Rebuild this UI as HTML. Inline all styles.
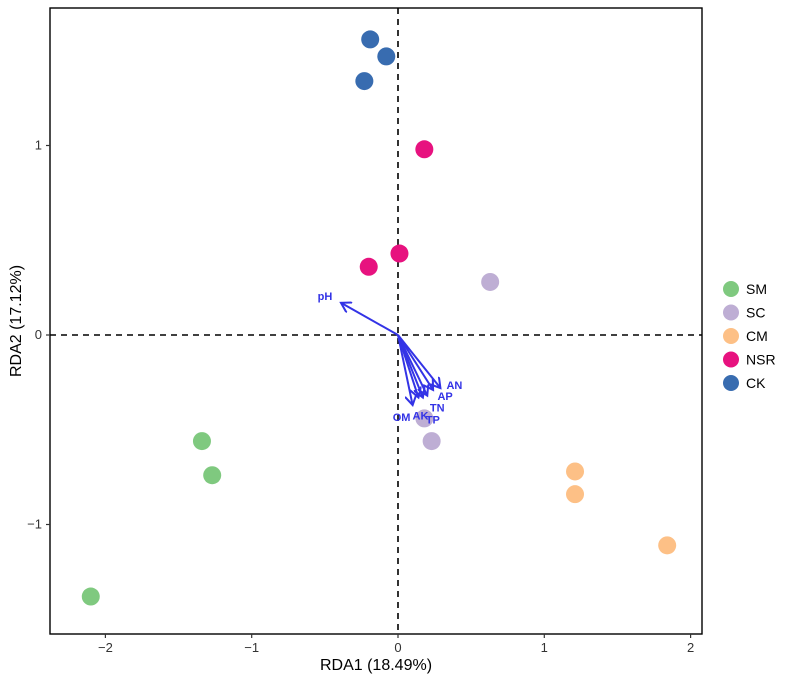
<!DOCTYPE html>
<html><head><meta charset="utf-8"><style>
body{margin:0;background:#fff;font-family:"Liberation Sans",Arial,sans-serif}
</style></head><body>
<svg id="chart" width="788" height="682" xmlns="http://www.w3.org/2000/svg"></svg>
<script>
const groups=["SM","SC","CM","NSR","CK"];
const groupColors=["#7fc97f","#beaed4","#fdc086","#e7127f","#386cb0"];
const sampleGroup=["CK","CK","CK","NSR","NSR","NSR","SC","SC","SC","CM","CM","CM","SM","SM","SM"];
const sampleX=[-0.19,-0.08,-0.23,0.18,0.01,-0.20,0.63,0.18,0.23,1.21,1.21,1.84,-1.34,-1.27,-2.10];
const sampleY=[1.56,1.47,1.34,0.98,0.43,0.36,0.28,-0.44,-0.56,-0.72,-0.84,-1.11,-0.56,-0.74,-1.38];
const envNames=["pH","AN","AP","TN","TP","AK","OM"];
const envX=[-0.39,0.29,0.24,0.20,0.17,0.14,0.10];
const envY=[0.17,-0.28,-0.29,-0.32,-0.33,-0.33,-0.37];
const xTicks=[-2,-1,0,1,2];
const yTicks=[-1,0,1];
const ns="http://www.w3.org/2000/svg";
const svg=document.getElementById("chart");
const L=50,R=702,T=8,B=634;
const sx=v=>398+v*146.3, sy=v=>335-v*189.5;
function mk(t,a,p){const e=document.createElementNS(ns,t);for(const k in a)e.setAttribute(k,a[k]);(p||svg).appendChild(e);return e;}
const panel=mk("rect",{x:L,y:T,width:R-L,height:B-T,fill:"none",stroke:"#000","stroke-width":1.4});


const vl=mk("line",{x1:sx(0),x2:sx(0),y1:T,y2:B,stroke:"#000","stroke-dasharray":"6,5","stroke-width":1.6});


const hl=mk("line",{x1:L,x2:R,y1:sy(0),y2:sy(0),stroke:"#000","stroke-dasharray":"6,5","stroke-width":1.6});


xTicks.forEach(v=>{
 mk("line",{x1:sx(v),x2:sx(v),y1:B,y2:B+4,stroke:"#333","stroke-width":1.2});
 const t=mk("text",{x:sx(v),y:B+18,"text-anchor":"middle","font-size":13,fill:"#333"});t.textContent=v<0?"\u2212"+(-v):v;
 
 
});
yTicks.forEach(v=>{
 mk("line",{x1:L-4,x2:L,y1:sy(v),y2:sy(v),stroke:"#333","stroke-width":1.2});
 const t=mk("text",{x:L-8,y:sy(v)+4,"text-anchor":"end","font-size":13,fill:"#333"});t.textContent=v<0?"\u2212"+(-v):v;
 
 
});
const xt=mk("text",{x:376,y:670,"text-anchor":"middle","font-size":16,fill:"#000"});xt.textContent="RDA1 (18.49%)";


const yt=mk("text",{x:0,y:0,"text-anchor":"middle","font-size":16,fill:"#000",transform:"translate(21,321) rotate(-90)"});yt.textContent="RDA2 (17.12%)";


sampleX.forEach((x,i)=>{
 const c=mk("circle",{cx:sx(x),cy:sy(sampleY[i]),r:9,fill:groupColors[groups.indexOf(sampleGroup[i])]});
 
 
});
const defs=mk("defs",{});
const m=mk("marker",{id:"ah",markerWidth:12,markerHeight:12,refX:10,refY:6,orient:"auto",markerUnits:"userSpaceOnUse"},defs);
mk("path",{d:"M0,0 L10,6 L0,12",fill:"none",stroke:"#3333e6","stroke-width":2},m);
const lblOff={pH:[-16,-3],AN:[14,1],AP:[12,10],TN:[10,16],TP:[10,26],AK:[2,22],OM:[-11,16]};
envX.forEach((x,i)=>{
 const a=mk("line",{x1:sx(0),y1:sy(0),x2:sx(x),y2:sy(envY[i]),stroke:"#3333e6","stroke-width":2,"marker-end":"url(#ah)"});
 
 
 const o=lblOff[envNames[i]];
 const t=mk("text",{x:sx(x)+o[0],y:sy(envY[i])+o[1],"text-anchor":"middle","font-size":11,"font-weight":"bold",fill:"#3333e6"});t.textContent=envNames[i];
 
 
});
groups.forEach((g,i)=>{
 const y=289+i*23.5;
 const c=mk("circle",{cx:731,cy:y,r:8,fill:groupColors[i]});
 
 
 const t=mk("text",{x:746,y:y+5,"font-size":14,fill:"#000"});t.textContent=g;
 
 
});
</script>
</body></html>
